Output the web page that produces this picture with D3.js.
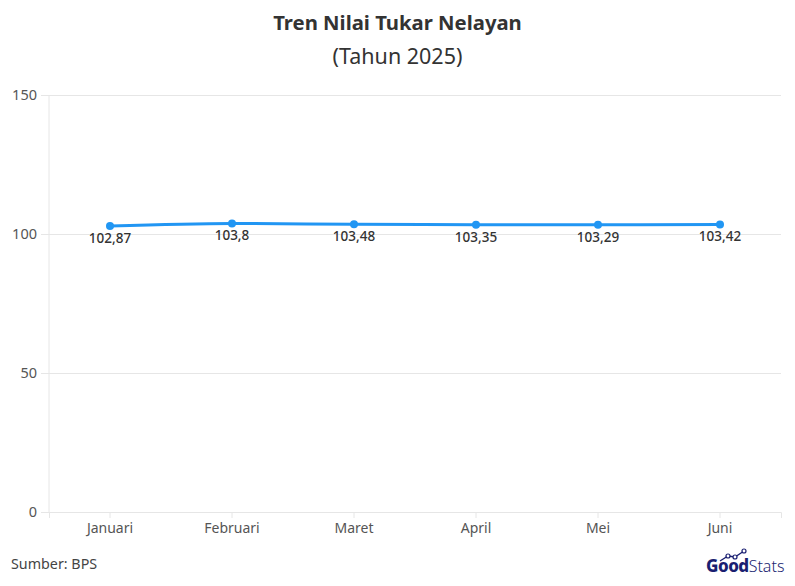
<!DOCTYPE html>
<html><head><meta charset="utf-8">
<script src="https://cdn.jsdelivr.net/npm/d3@7"></script>
<style>body{margin:0;background:#fff;font-family:"Noto Sans",sans-serif}</style>
</head><body>
<svg id="c" width="795" height="586"></svg>
<script>
const categories = ["Januari","Februari","Maret","April","Mei","Juni"];
const values = [102.87,103.8,103.48,103.35,103.29,103.42];
const labels = ["102,87","103,8","103,48","103,35","103,29","103,42"];
const yTicks = [0,50,100,150];

(function(){
const svg = d3.select("#c");
const pL = 49, pR = 781, pT = 95, pB = 512;
const x = d3.scaleBand().domain(categories).range([pL,pR]).padding(0);
const y = d3.scaleLinear().domain([0,150]).range([pB,pT]);
const font = "'Noto Sans',sans-serif";

svg.append("text").attr("x",397.5).attr("y",30).attr("text-anchor","middle")
  .attr("font-family",font).attr("font-size",20.3).attr("font-weight",700).attr("fill","#333")
  .text("Tren Nilai Tukar Nelayan");
svg.append("text").attr("x",397.5).attr("y",64).attr("text-anchor","middle")
  .attr("font-family",font).attr("font-size",21.5).attr("fill","#333")
  .text("(Tahun 2025)");

const yAxis = d3.axisLeft(y).tickValues(yTicks).tickSize(0).tickPadding(12);
const gy = svg.append("g").attr("transform",`translate(${pL},0)`).call(yAxis);
gy.select(".domain").remove();
gy.selectAll(".tick line").attr("x1",-8).attr("x2",pR-pL).attr("stroke","#e6e6e6").attr("stroke-width",1);
gy.selectAll(".tick text").attr("font-family",font).attr("font-size",14.5).attr("fill","#555").attr("x",-12);

svg.append("line").attr("x1",pL).attr("x2",pL).attr("y1",pT).attr("y2",pB).attr("stroke","#e6e6e6");

const xAxis = d3.axisBottom(x).tickSize(6).tickPadding(5);
const gx = svg.append("g").attr("transform",`translate(0,${pB})`).call(xAxis);
gx.select(".domain").attr("stroke","#e6e6e6");
gx.selectAll(".tick line").attr("stroke","#e6e6e6");
gx.selectAll(".tick text").attr("font-family",font).attr("font-size",14).attr("fill","#555");

const cx = d => x(d)+x.bandwidth()/2;
const line = d3.line().x((d,i)=>cx(categories[i])).y(d=>y(d)).curve(d3.curveMonotoneX);
svg.append("path").datum(values).attr("d",line).attr("fill","none").attr("stroke","#2196f3").attr("stroke-width",3);
svg.selectAll("circle.p").data(values).join("circle").attr("cx",(d,i)=>cx(categories[i])).attr("cy",d=>y(d)).attr("r",4).attr("fill","#2196f3");
svg.selectAll("text.l").data(values).join("text").attr("x",(d,i)=>cx(categories[i])).attr("y",d=>y(d)+17)
  .attr("text-anchor","middle").attr("font-family",font).attr("font-size",13.5).attr("font-weight",500).attr("fill","#333")
  .text((d,i)=>labels[i]);

svg.append("text").attr("x",11).attr("y",569).attr("font-family",font).attr("font-size",14.3).attr("fill","#444").text("Sumber: BPS");

const lg = svg.append("g");
const lt = lg.append("text").attr("x",706).attr("y",572).attr("font-family","'Noto Sans',sans-serif").attr("font-size",17).attr("fill","#1a1f71");
lt.append("tspan").attr("font-weight",800).attr("letter-spacing",-0.5).text("Good");
lt.append("tspan").attr("font-weight",300).attr("font-size",16).text("Stats");
lg.append("path").attr("d","M720,561 L728,556 L735,557 L744,551").attr("fill","none").attr("stroke","#1a1f71").attr("stroke-width",1.3);
[[728,556],[735,557],[744,551]].forEach(p=>lg.append("circle").attr("cx",p[0]).attr("cy",p[1]).attr("r",2).attr("fill","#fff").attr("stroke","#1a1f71").attr("stroke-width",1.2));
})();
</script>
</body></html>
